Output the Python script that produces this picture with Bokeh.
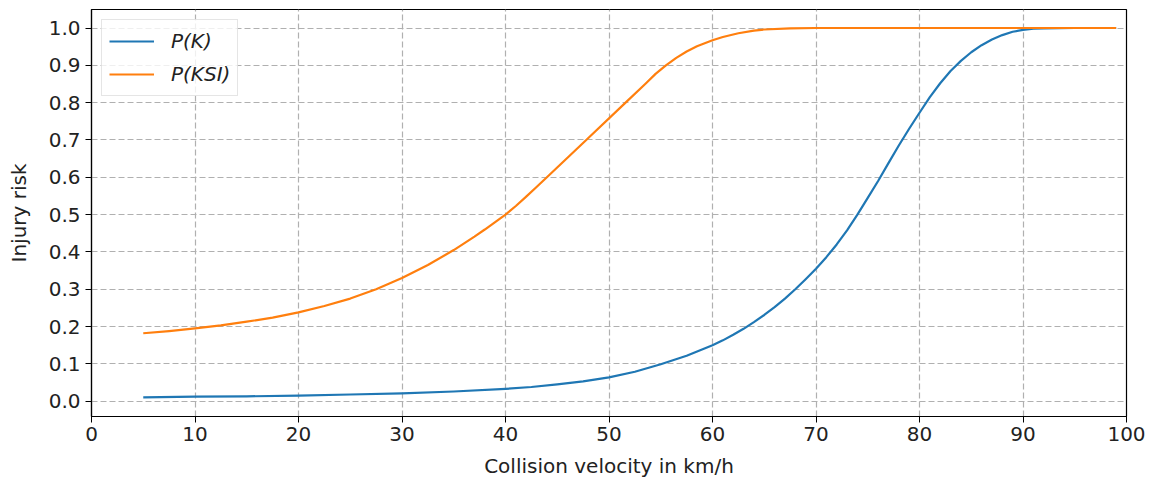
from bokeh.plotting import figure
from bokeh.models import Range1d, FixedTicker, NumeralTickFormatter, Legend, LegendItem
from bokeh.embed import file_html
from bokeh.resources import INLINE

# Collision velocity (km/h) and injury risk readings
v_k = [5, 10, 15, 20, 25, 30, 35, 40, 42.5, 45, 47.5, 50, 52.5, 55, 57.5, 60, 61, 62,
       63, 64, 65, 66, 67, 68, 69, 70, 71, 72, 73, 74, 75, 76, 77, 78, 79, 80, 81, 82,
       83, 84, 85, 86, 87, 88, 89, 90, 91, 92, 95, 99]
p_k = [0.010, 0.012, 0.013, 0.015, 0.018, 0.021, 0.026, 0.033, 0.038, 0.045, 0.053,
       0.064, 0.079, 0.099, 0.122, 0.150, 0.163, 0.178, 0.194, 0.212, 0.231, 0.252,
       0.275, 0.300, 0.327, 0.355, 0.386, 0.420, 0.458, 0.500, 0.545, 0.590, 0.638,
       0.685, 0.730, 0.773, 0.815, 0.852, 0.885, 0.912, 0.935, 0.954, 0.969, 0.981,
       0.990, 0.995, 0.998, 0.999, 1.0, 1.0]

v_ksi = [5, 7.5, 10, 12.5, 15, 17.5, 20, 22.5, 25, 27.5, 30, 32.5, 35, 36, 37, 38, 39,
         40, 41, 42, 43, 44, 47.8, 51.6, 53.5, 54.5, 55.5, 56.5, 57.5, 58.5, 60, 61,
         62.5, 64, 65, 67.5, 70, 75, 80, 85, 90, 95, 99]
p_ksi = [0.182, 0.188, 0.195, 0.203, 0.213, 0.224, 0.238, 0.255, 0.275, 0.300, 0.330,
         0.365, 0.405, 0.423, 0.441, 0.460, 0.480, 0.500, 0.523, 0.548, 0.574, 0.600,
         0.700, 0.800, 0.850, 0.877, 0.900, 0.920, 0.937, 0.951, 0.967, 0.976, 0.986,
         0.993, 0.996, 0.999, 1.0, 1.0, 1.0, 1.0, 1.0, 1.0, 1.0]

x_ticks = [0, 10, 20, 30, 40, 50, 60, 70, 80, 90, 100]
y_ticks = [0.0, 0.1, 0.2, 0.3, 0.4, 0.5, 0.6, 0.7, 0.8, 0.9, 1.0]

FONT = "DejaVu Sans"
FS = "20px"

p = figure(width=1150, height=484, output_backend="svg", toolbar_location=None,
           x_range=Range1d(0, 100), y_range=Range1d(-0.041, 1.0496),
           min_border_left=91, min_border_right=24, min_border_top=9, min_border_bottom=68)

p.background_fill_color = "white"
p.border_fill_color = "white"
p.outline_line_color = "black"
p.outline_line_width = 1.2
p.outline_line_alpha = 1.0

for ax in (p.xaxis[0], p.yaxis[0]):
    ax.axis_line_color = "black"
    ax.axis_line_width = 1.2
    ax.major_tick_out = 6
    ax.major_tick_in = 0
    ax.minor_tick_out = 0
    ax.minor_tick_in = 0
    ax.major_tick_line_color = "black"
    ax.major_label_text_font = FONT
    ax.major_label_text_font_size = FS
    ax.major_label_text_color = "#222222"
    ax.axis_label_text_font = FONT
    ax.axis_label_text_font_size = FS
    ax.axis_label_text_font_style = "normal"
    ax.axis_label_text_color = "#222222"

p.xaxis.ticker = FixedTicker(ticks=x_ticks)
p.yaxis.ticker = FixedTicker(ticks=y_ticks)
p.yaxis.formatter = NumeralTickFormatter(format="0.0")
p.xaxis.axis_label = "Collision velocity in km/h"
p.yaxis.axis_label = "Injury risk"
p.xaxis.major_label_standoff = 4
p.yaxis.major_label_standoff = 5
p.xaxis.axis_label_standoff = 10
p.yaxis.axis_label_standoff = 15

for g in (p.xgrid[0], p.ygrid[0]):
    g.grid_line_color = "#b0b0b0"
    g.grid_line_dash = "6 3"
    g.grid_line_width = 1.2

r1 = p.line(v_k, p_k, line_color="#1f77b4", line_width=2.2, line_join="round")
r2 = p.line(v_ksi, p_ksi, line_color="#ff7f0e", line_width=2.2, line_join="round")

legend = Legend(items=[LegendItem(label="P(K)", renderers=[r1]),
                       LegendItem(label="P(KSI)", renderers=[r2])],
                location="top_left")
legend.margin = 10
legend.padding = 7
legend.spacing = 5
legend.glyph_width = 45
legend.glyph_height = 28
legend.label_height = 28
legend.label_standoff = 17
legend.label_text_font = FONT
legend.label_text_font_size = FS
legend.label_text_font_style = "italic"
legend.label_text_color = "#222222"
legend.border_line_color = "#cccccc"
legend.border_line_width = 1
legend.background_fill_color = "white"
legend.background_fill_alpha = 0.8
p.add_layout(legend)

open("out.html", "w").write(file_html(p, INLINE))
